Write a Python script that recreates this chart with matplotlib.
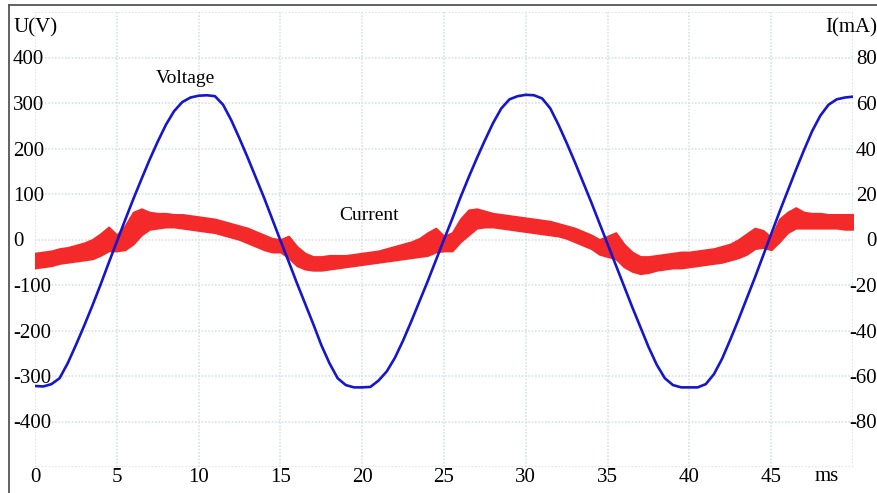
import numpy as np
import matplotlib
matplotlib.use('Agg')
import matplotlib.pyplot as plt
from matplotlib.lines import Line2D

plt.rcParams['font.family'] = ['Liberation Serif', 'DejaVu Serif']

# time base, ms (0.5 ms steps)
t = np.arange(0, 50.01, 0.5)

# voltage, V
voltage = [-322, -323, -318, -305, -272, -232, -190, -146, -100, -52,
           -5, 42, 88, 132, 175, 215, 252, 282, 302, 312,
           316, 317, 315, 296, 262, 222, 180, 136, 92, 45,
           -2, -48, -95, -140, -185, -232, -272, -305, -320, -325,
           -325, -324, -310, -290, -260, -222, -180, -136, -92, -46,
           0, 45, 92, 136, 178, 218, 256, 288, 308, 315,
           318, 317, 310, 288, 252, 212, 170, 126, 82, 36,
           -10, -56, -102, -148, -192, -236, -275, -305, -320, -325,
           -325, -325, -318, -296, -262, -220, -176, -130, -84, -36,
           12, 60, 106, 152, 196, 238, 272, 296, 308, 312, 314]

# current band (noisy trace) upper / lower envelope, mA
current_hi = [-6, -5.5, -5, -4, -3.5, -2.5, -1.5, 0, 2.5, 5.5,
              2, 6, 12, 13.5, 12, 11.5, 11.5, 11, 11, 10.5,
              10, 9.5, 9, 8, 7, 6, 5, 3.5, 2, 0.5,
              0, 1.5, -3, -6, -7.5, -7.5, -7, -7, -7, -6.5,
              -6, -5.5, -5, -4, -3, -2, -1, 0.5, 3, 5,
              1.5, 3, 9, 13, 13.5, 12.5, 11.5, 11, 10.5, 10,
              9.5, 9, 8.5, 8, 7, 6, 5, 3.5, 2, 0,
              1.5, 3, -2, -5.5, -7.5, -7.5, -7, -6.5, -6, -5.5,
              -5.5, -5, -4.5, -4, -3, -2, 0, 2.5, 5, 4,
              1, 9, 12, 14, 12, 11.5, 11.5, 11, 11, 11, 11]
current_lo = [-12.5, -12, -11.5, -10.5, -10, -9.5, -9, -8.5, -7, -5,
              -5, -4.5, -2, 2, 4.5, 5, 5.5, 5.5, 5, 4.5,
              4, 3.5, 3, 2, 1, 0, -1.5, -3, -4.5, -5.5,
              -5.5, -8, -11.5, -13, -13.5, -13.5, -13, -12.5, -12, -11.5,
              -11, -10.5, -10, -9.5, -9, -8.5, -8, -7.5, -7, -5.5,
              -5, -5, -1, 2, 5, 5.5, 5.5, 5, 4.5, 4,
              3.5, 3, 2.5, 2, 1.5, 0.5, -1, -2.5, -4, -6.5,
              -7.5, -8.5, -12, -14, -15, -14.5, -13.5, -13, -12.5, -12.5,
              -12, -11.5, -11, -10.5, -10, -9, -8, -6.5, -4, -3.5,
              -4.5, -1, 3, 5, 5, 5, 5, 5, 5, 4.5, 4.5]

x_ticks = list(range(0, 51, 5))
x_labels = [str(v) for v in range(0, 50, 5)] + ['']
u_ticks = list(range(-400, 401, 100))
i_ticks = list(range(-100, 101, 20))
i_labels = [''] + [str(v) for v in range(-80, 81, 20)] + ['']

fig = plt.figure(figsize=(8.78, 4.93), dpi=100)
ax = fig.add_axes([35/878, 26/493, 818/878, 455/493])  # current, grid
ax2 = ax.twinx()  # voltage, on top

fs = 15
grid_col = '#d9e1e8'

# current band
ax.fill_between(t, current_lo, current_hi, color='#f42a2a', linewidth=1.4,
                edgecolor='#f42a2a')
ax.set_xlim(0, 50)
ax.set_ylim(-100, 100)
ax.set_xticks(x_ticks)
ax.set_xticklabels(x_labels, fontsize=fs)
ax.set_yticks(i_ticks)
ax.set_yticklabels(i_labels, fontsize=fs)
ax.yaxis.tick_right()
ax.tick_params(axis='x', length=0, pad=0.5)
ax.tick_params(axis='y', length=0, pad=17)
for lab in ax.get_yticklabels():
    lab.set_horizontalalignment('right')
ax.grid(True, color=grid_col, linestyle=(0, (1, 1)), linewidth=1.2)
ax.set_axisbelow(True)
for s in ax.spines.values():
    s.set_visible(False)

# voltage
ax2.plot(t, voltage, color='#1616cc', linewidth=1.9)
ax2.set_ylim(-500, 500)
ax2.set_yticks(u_ticks)
ax2.set_yticklabels([str(v) for v in u_ticks], fontsize=fs)
ax2.yaxis.tick_left()
ax2.tick_params(axis='y', length=0, pad=16)
for lab in ax2.get_yticklabels():
    lab.set_horizontalalignment('left')
for s in ax2.spines.values():
    s.set_visible(False)

ax2.text(9.2, 354, 'Voltage', fontsize=14, ha='center', va='center')
ax2.text(20.4, 53, 'Current', fontsize=14, ha='center', va='center')
ax2.text(48.4, -500, 'ms', fontsize=fs, ha='center', va='top')

fig.text(14/878, 1 - 28/493, 'U(V)', fontsize=fs, ha='left', va='center')
fig.text(877/878, 1 - 28/493, 'I(mA)', fontsize=fs, ha='right', va='center')

# outer frame (top + left edge of the screenshot)
fig.add_artist(Line2D([9/878, 1], [1 - 5/493, 1 - 5/493], color='#555555',
                      linewidth=1.3, transform=fig.transFigure))
fig.add_artist(Line2D([9/878, 9/878], [0, 1 - 5/493], color='#555555',
                      linewidth=1.3, transform=fig.transFigure))

fig.savefig('out.png', dpi=100)
